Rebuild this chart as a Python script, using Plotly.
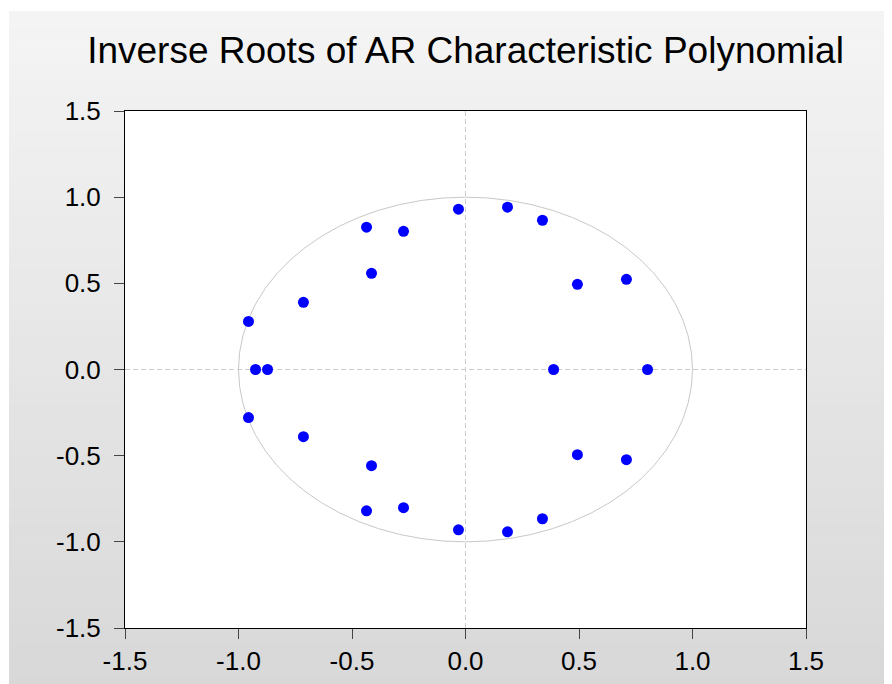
import plotly.graph_objects as go

# Inverse roots (real, imaginary)
real_parts = [-0.031, 0.185, 0.339, -0.436, -0.273, -0.414, 0.493, 0.709, -0.714, -0.956,
              -0.925, -0.872, 0.388, 0.802,
              -0.956, -0.714, -0.414, -0.436, -0.273, -0.031, 0.185, 0.339, 0.493, 0.709]
imag_parts = [0.930, 0.942, 0.866, 0.826, 0.802, 0.558, 0.494, 0.523, 0.390, 0.279,
              0.0, 0.0, 0.0, 0.0,
              -0.279, -0.390, -0.558, -0.820, -0.802, -0.930, -0.942, -0.866, -0.494, -0.523]
tick_values = [-1.5, -1.0, -0.5, 0.0, 0.5, 1.0, 1.5]
tick_labels = ["-1.5", "-1.0", "-0.5", "0.0", "0.5", "1.0", "1.5"]
title_text = "Inverse Roots of AR Characteristic Polynomial"

W, H = 892, 684
OFF = 8  # page body margin offset
# desired plot area in window pixels: x 125..806, y 111..628
L, T = 125 - OFF, 111 - OFF
R = W - (806 - OFF)
B = H - (628 - OFF)
pw, ph = W - L - R, H - T - B

def px_x(p):  # window px -> paper x
    return (p - OFF - L) / pw

def px_y(p):  # window px -> paper y
    return (H - B - (p - OFF)) / ph

shapes = []
# gradient background bands (paper coords)
n = 40
top, bottom = 11, H + 10
for i in range(n):
    y0 = top + (bottom - top) * i / n
    y1 = top + (bottom - top) * (i + 1) / n
    f = i / (n - 1)
    c = int(round(0xf4 + (0xd8 - 0xf4) * f))
    shapes.append(dict(type="rect", xref="paper", yref="paper",
                       x0=px_x(9), x1=px_x(W + 10), y0=px_y(y1 + 0.5), y1=px_y(y0),
                       fillcolor=f"rgb({c},{c},{c})", line=dict(width=0), layer="below"))
# white plot area
shapes.append(dict(type="rect", xref="paper", yref="paper", x0=0, x1=1, y0=0, y1=1,
                   fillcolor="white", line=dict(width=0), layer="below"))
# unit circle
shapes.append(dict(type="circle", xref="x", yref="y", x0=-1, y0=-1, x1=1, y1=1,
                   line=dict(color="#c8c8c8", width=1), layer="below"))
# dashed zero lines
shapes.append(dict(type="line", xref="x", yref="paper", x0=0, x1=0, y0=0, y1=1,
                   line=dict(color="#cccccc", width=1, dash="5px,3px"), layer="below"))
shapes.append(dict(type="line", xref="paper", yref="y", x0=0, x1=1, y0=0, y1=0,
                   line=dict(color="#cccccc", width=1, dash="5px,3px"), layer="below"))

fig = go.Figure()
fig.add_trace(go.Scatter(x=real_parts, y=imag_parts, mode="markers",
                         marker=dict(color="#0000ff", size=11, line=dict(width=0)),
                         hoverinfo="x+y", showlegend=False))

axis_common = dict(range=[-1.5, 1.5], tickvals=tick_values, ticktext=tick_labels,
                   showgrid=False, zeroline=False, showline=True, linecolor="black",
                   linewidth=1, mirror=True, ticks="outside", ticklen=10, tickcolor="#444444",
                   tickfont=dict(family="Liberation Sans, Arial, sans-serif", size=26, color="black"))
fig.update_layout(
    width=W, height=H,
    margin=dict(l=L, r=R, t=T, b=B),
    paper_bgcolor="white", plot_bgcolor="white",
    shapes=shapes,
    title=dict(text=title_text, x=(465.5 - OFF) / W, xanchor="center",
               y=1 - (50 - OFF) / H, yanchor="middle",
               font=dict(family="Liberation Sans, Arial, sans-serif", size=37, color="black")),
    xaxis=dict(**axis_common, ticklabelstandoff=0),
    yaxis=dict(**axis_common, ticklabelstandoff=8),
)
fig.write_html("out.html")
